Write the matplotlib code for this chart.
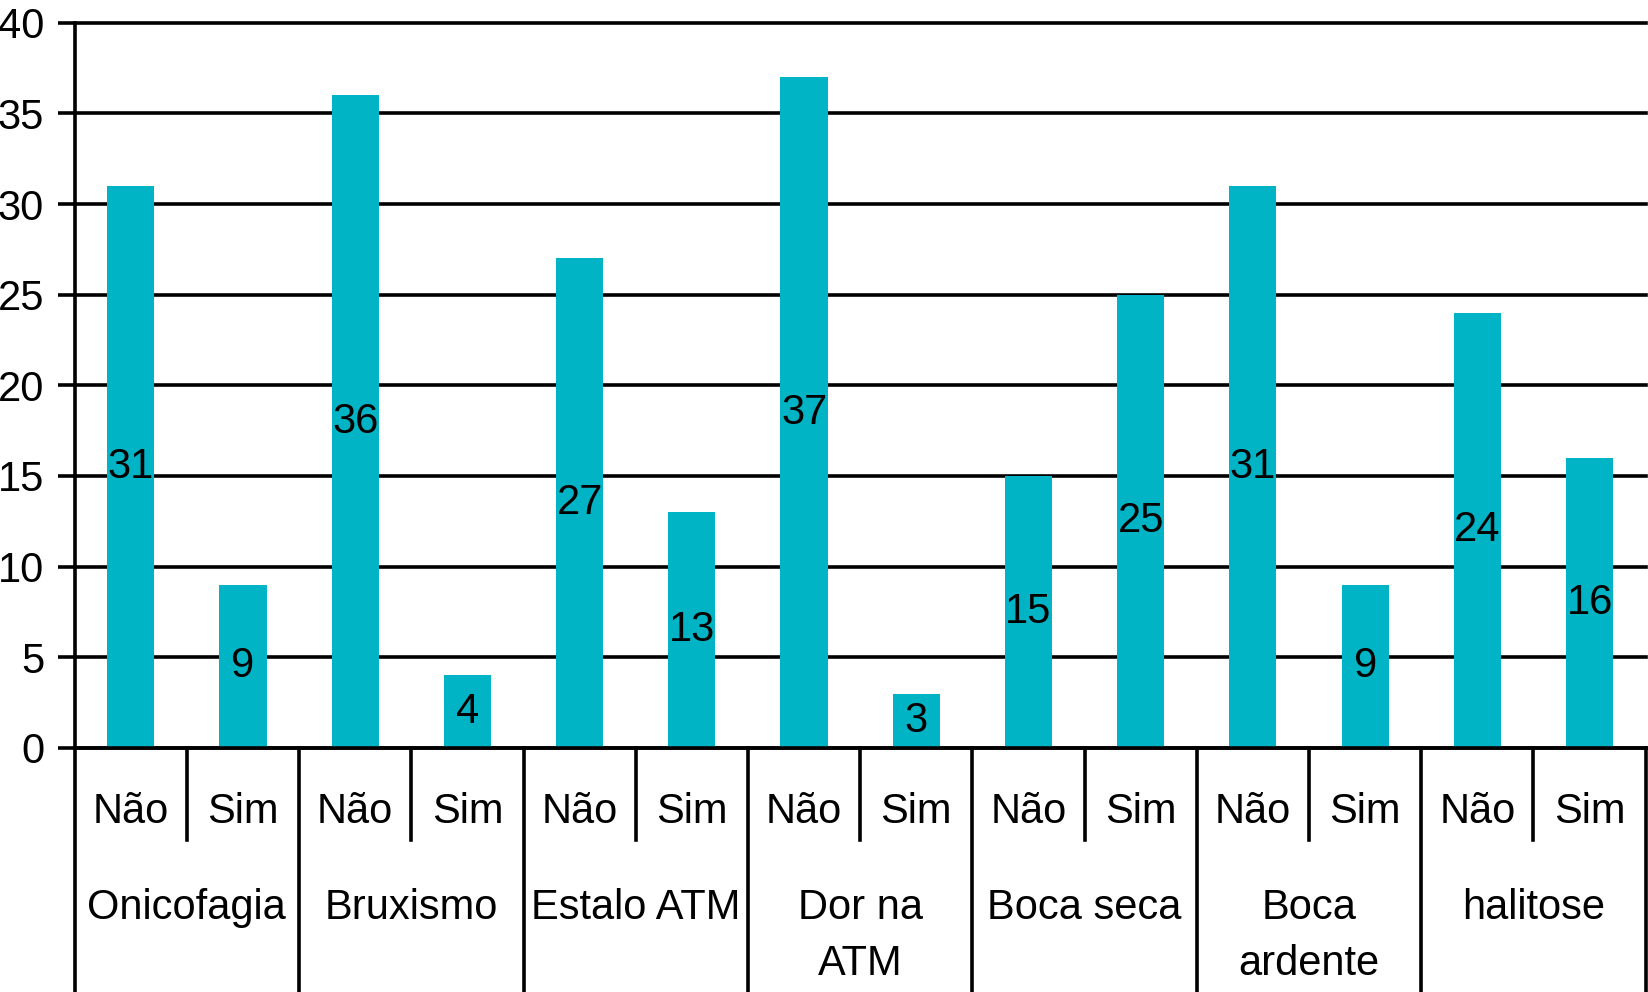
import matplotlib
matplotlib.use("Agg")
import matplotlib.pyplot as plt
import matplotlib.transforms as mtransforms

plt.rcParams['font.family'] = ['Liberation Sans', 'DejaVu Sans']

groups = ['Onicofagia', 'Bruxismo', 'Estalo ATM', 'Dor na\nATM', 'Boca seca', 'Boca\nardente', 'halitose']
answers = ['Não', 'Sim']
nao = [31, 36, 27, 37, 15, 31, 24]
sim = [9, 4, 13, 3, 25, 9, 16]

counts = []
for n, s in zip(nao, sim):
    counts += [n, s]

fig = plt.figure(figsize=(16.48, 9.92), dpi=100)
ax = fig.add_axes([0.0453, 0.246, 0.9533, 0.7311])

x = list(range(len(counts)))
ax.bar(x, counts, width=0.42, color='#00b4c5', zorder=3)
for i, v in zip(x, counts):
    ax.text(i, v / 2, str(v), ha='center', va='center', fontsize=30, zorder=4)

lw = 2.6
ax.set_xlim(-0.5, len(counts) - 0.5)
ax.set_ylim(0, 40)
ax.set_yticks(range(0, 41, 5))
ax.set_xticks([])
ax.grid(axis='y', color='black', linewidth=lw, zorder=1)
ax.set_axisbelow(True)
for gl in ax.yaxis.get_gridlines():
    gl.set_clip_on(False)
ax.tick_params(axis='y', length=12, width=lw, pad=10, labelsize=30, direction='out')
for s in ['top', 'right', 'left']:
    ax.spines[s].set_visible(False)
ax.spines['bottom'].set_linewidth(lw)
ax.spines['bottom'].set_zorder(5)

# table-like category axis below the plot
trans = mtransforms.blended_transform_factory(ax.transData, ax.transAxes)
for k in range(len(groups) + 1):
    top = 1 if k == 0 else 0
    ax.plot([2 * k - 0.5] * 2, [top, -0.36], transform=trans, clip_on=False,
            color='black', linewidth=lw, zorder=5)
for k in range(len(groups)):
    ax.plot([2 * k + 0.5] * 2, [0, -0.1268], transform=trans, clip_on=False,
            color='black', linewidth=lw)

for i in x:
    ax.text(i, -0.1034, answers[i % 2], transform=trans, ha='center', va='baseline',
            fontsize=30)
for g, name in enumerate(groups):
    ax.text(2 * g + 0.5, -0.1937, name, transform=trans, ha='center', va='top',
            fontsize=30, linespacing=1.5)

fig.savefig('out.png', dpi=100)
